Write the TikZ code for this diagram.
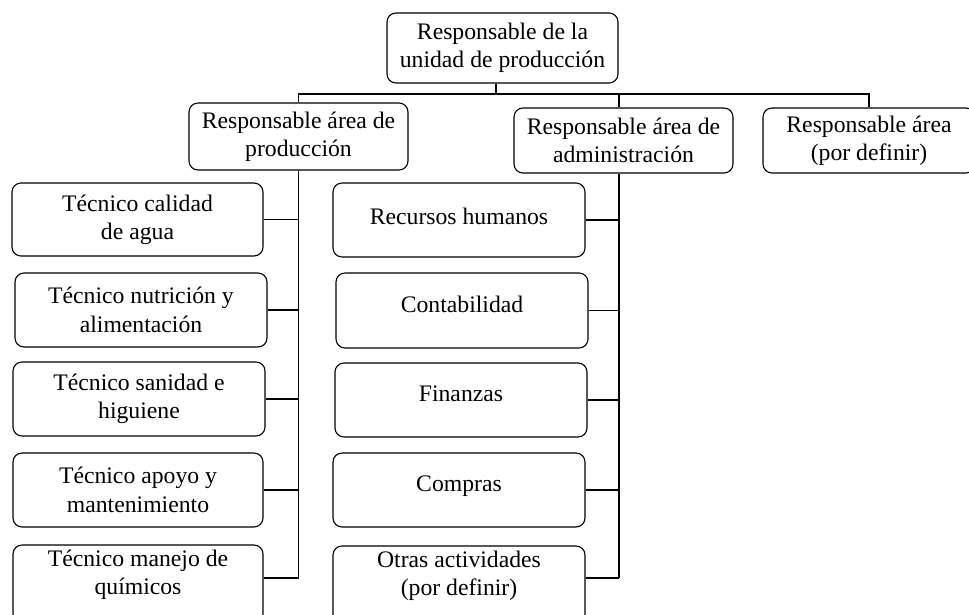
\documentclass[tikz,border=0pt]{standalone}
\usepackage{fontspec}
\setmainfont{Liberation Serif}
\begin{document}
\begin{tikzpicture}[x=1pt,y=-1pt,
  box/.style={draw=black, line width=1.1pt, rounded corners=9pt, inner sep=0pt, align=center,
    font=\fontsize{23.7}{28.3}\selectfont},
  one/.style={text height=16.5pt, text depth=13.5pt},
  txt/.style={align=center, inner sep=0pt, font=\fontsize{23.7}{28.3}\selectfont},
  wire/.style={draw=black, line width=1.1pt}]
\useasboundingbox (0,0) rectangle (969,614);
% level 0
\node[box, minimum width=231pt, minimum height=70pt] (top) at (502.5,48) {Responsable de la\\unidad de producción};
% level 1
\node[box, minimum width=219pt, minimum height=67pt] (prod) at (298.5,136.5) {Responsable área de\\producción};
\node[box, minimum width=219pt, minimum height=65pt] (admin) at (623.5,140.5) {Responsable área de\\administración};
\node[box, minimum width=212pt, minimum height=65pt] (third) at (869,140.5) {Responsable área\\(por definir)};
% left column
\node[box, minimum width=251pt, minimum height=73pt] (c1) at (137.5,219.5) {Técnico calidad\\de agua};
\node[box, minimum width=252pt, minimum height=74pt] (c2) at (141,310) {Técnico nutrición y\\alimentación};
\node[box, minimum width=252pt, minimum height=74pt] (c3) at (139,399) {Técnico sanidad e\\higuiene};
\node[box, minimum width=250pt, minimum height=74pt] (c4) at (138,490) {Técnico apoyo y\\mantenimiento};
\node[box, minimum width=250pt, minimum height=78pt,
  label={[txt, yshift=9pt]center:{Técnico manejo de\\químicos}}] (c5) at (138,584) {};
% middle column
\node[box, one, text depth=8.5pt, minimum width=252pt, minimum height=74pt] (r1) at (459,220) {Recursos humanos};
\node[box, one, minimum width=252pt, minimum height=75pt] (r2) at (462,310.5) {Contabilidad};
\node[box, one, minimum width=252pt, minimum height=74pt] (r3) at (461,400) {Finanzas};
\node[box, one, minimum width=252pt, minimum height=74pt] (r4) at (459,490) {Compras};
\node[box, minimum width=252pt, minimum height=78pt,
  label={[txt, yshift=9pt]center:{Otras actividades\\(por definir)}}] (r5) at (459,585) {};
% helper coordinates
\coordinate (bus) at (0,94);
\coordinate (asp) at (619,0);
\coordinate (tsp) at (496,0);
% top connectors
\draw[wire] (top.south -| tsp) -- (tsp |- bus);
\draw[wire] (prod.north) -- (prod.north |- bus) -- (third.north |- bus) -- (third.north);
\draw[wire] (asp |- bus) -- (asp |- admin.north);
% left spine
\draw[wire] (prod.south) -- (prod.south |- 0,578);
\foreach \n in {c1,c2,c3,c4} \draw[wire] (\n.east) -- (\n.east -| prod.south);
\draw[wire] (c5.east |- 0,578) -- (prod.south |- 0,578);
% middle spine
\draw[wire] (asp |- admin.south) -- (asp |- 0,578);
\foreach \n in {r1,r2,r3,r4} \draw[wire] (\n.east) -- (\n.east -| asp);
\draw[wire] (r5.east |- 0,578) -- (asp |- 0,578);
\end{tikzpicture}
\end{document}
